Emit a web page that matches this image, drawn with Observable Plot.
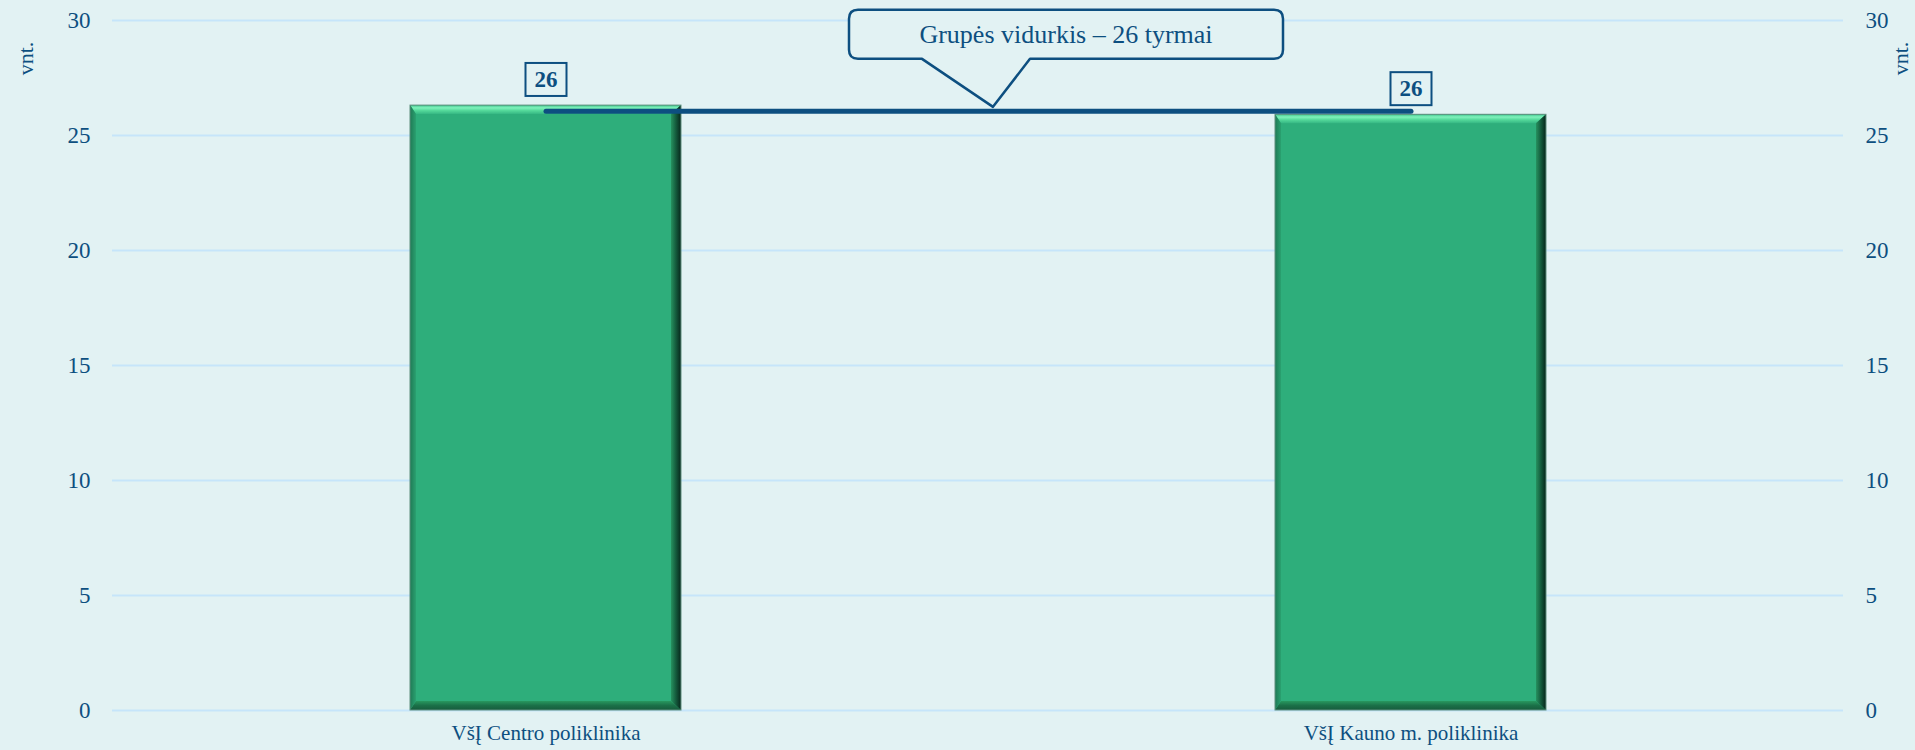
<!DOCTYPE html>
<html>
<head>
<meta charset="utf-8">
<script src="https://cdn.jsdelivr.net/npm/d3@7"></script>
<script src="https://cdn.jsdelivr.net/npm/@observablehq/plot@0.6"></script>
<style>
  html, body { margin: 0; padding: 0; background: #e2f2f3; }
  body { width: 1915px; height: 750px; overflow: hidden; }
</style>
</head>
<body>
<div id="chart"></div>
<script>
const categories = ["VšĮ Centro poliklinika", "VšĮ Kauno m. poliklinika"];
const values = [26.3, 25.9];
const valueLabels = ["26", "26"];
const groupAverage = 26.05;
const calloutText = "Grupės vidurkis – 26 tyrmai";
const yTicks = [0, 5, 10, 15, 20, 25, 30];
const unitLabel = "vnt.";

const BG = "#e2f2f3";
const BLUE = "#0d4f80";
const GREEN = "#2eae7b";
const FONT = "'Liberation Serif', 'Times New Roman', serif";

const data = categories.map((c, i) => ({cat: c, value: values[i], label: valueLabels[i]}));
const avgLine = categories.map(c => ({cat: c, value: groupAverage}));

const chart = Plot.plot({
  width: 1915,
  height: 750,
  marginLeft: 112,
  marginRight: 72,
  marginTop: 20,
  marginBottom: 40,
  style: {background: BG, fontFamily: FONT, color: BLUE, overflow: "visible"},
  x: {type: "band", domain: categories, paddingInner: 0.687, paddingOuter: 0.3435, label: null},
  y: {domain: [0, 30], label: null},
  marks: [
    Plot.gridY(yTicks, {stroke: "#c6e5fa", strokeOpacity: 1, strokeWidth: 2}),
    Plot.barY(data, {x: "cat", y: "value", fill: GREEN}),
    Plot.line(avgLine, {x: "cat", y: "value", stroke: BLUE, strokeWidth: 5, strokeLinecap: "round"}),
    Plot.text(data, {x: "cat", y: "value", text: "label", dy: -26, fontSize: 23, fontWeight: "bold", fill: BLUE}),
    Plot.axisY(yTicks, {anchor: "left", tickSize: 0, tickPadding: 22, fontSize: 23, fill: BLUE, label: null}),
    Plot.axisY(yTicks, {anchor: "right", tickSize: 0, tickPadding: 22, fontSize: 23, fill: BLUE, label: null}),
    Plot.axisX({tickSize: 0, tickPadding: 15, fontSize: 21, fill: BLUE, label: null}),
    Plot.text([unitLabel], {frameAnchor: "top-left", textAnchor: "middle", lineAnchor: "middle", rotate: -90, dx: -87, dy: 38, fontSize: 22, fill: BLUE}),
    Plot.text([unitLabel], {frameAnchor: "top-right", textAnchor: "middle", lineAnchor: "middle", rotate: -90, dx: 57, dy: 38, fontSize: 22, fill: BLUE})
  ]
});

document.getElementById("chart").appendChild(chart);

const svg = d3.select(chart);
const defs = svg.insert("defs", ":first-child");
function grad(id, x2, y2, stops) {
  const g = defs.append("linearGradient").attr("id", id)
    .attr("x1", 0).attr("y1", 0).attr("x2", x2).attr("y2", y2);
  stops.forEach(([o, c]) => g.append("stop").attr("offset", o).attr("stop-color", c));
}
grad("bvTop", 0, 1, [[0, "#3cc38c"], [0.3, "#80f2bb"], [0.6, "#55d99b"], [1, "#35b783"]]);
grad("bvRight", 1, 0, [[0, "#26915f"], [0.5, "#145a3c"], [1, "#06251a"]]);
grad("bvBottom", 0, 1, [[0, "#28985f"], [0.5, "#1b7048"], [1, "#175c3d"]]);
grad("bvLeft", 1, 0, [[0, "#1f7a55"], [1, "#2aa170"]]);

// bevel decoration derived from the bars Plot drew
svg.selectAll('g[aria-label="bar"] rect').each(function () {
  const r = d3.select(this);
  const x = +r.attr("x"), y = +r.attr("y"), w = +r.attr("width"), h = +r.attr("height");
  const t = 9, rt = 10, b = 9, l = 6;
  const g = d3.select(this.parentNode).append("g");
  const poly = (pts, fill) => g.append("polygon").attr("points", pts.map(p => p.join(",")).join(" ")).attr("fill", fill);
  poly([[x, y], [x + w, y], [x + w - rt, y + t], [x + l, y + t]], "url(#bvTop)");
  poly([[x, y + h], [x + w, y + h], [x + w - rt, y + h - b], [x + l, y + h - b]], "url(#bvBottom)");
  poly([[x, y], [x, y + h], [x + l, y + h - b], [x + l, y + t]], "url(#bvLeft)");
  poly([[x + w, y], [x + w, y + h], [x + w - rt, y + h - b], [x + w - rt, y + t]], "url(#bvRight)");
  g.append("rect").attr("x", x).attr("y", y).attr("width", w).attr("height", h)
    .attr("fill", "none").attr("stroke", "#5f8f7e").attr("stroke-width", 1);
});

// boxes around value labels (first text mark)
const labelGroup = svg.selectAll('g[aria-label="text"]').filter((d, i) => i === 0);
labelGroup.selectAll("text").each(function () {
  const bb = this.getBBox();
  const tr = this.getAttribute("transform");
  const rect = document.createElementNS("http://www.w3.org/2000/svg", "rect");
  this.parentNode.insertBefore(rect, this);
  d3.select(rect)
    .attr("x", bb.x - 9).attr("y", bb.y - 4).attr("width", bb.width + 18).attr("height", bb.height + 8)
    .attr("transform", tr).attr("fill", BG).attr("stroke", BLUE).attr("stroke-width", 2);
});

// callout
const xs = chart.scale("x"), ys = chart.scale("y");
const c1 = xs.apply(categories[0]) + xs.bandwidth / 2;
const c2 = xs.apply(categories[1]) + xs.bandwidth / 2;
const mid = (c1 + c2) / 2;
const tipX = mid + 15, tipY = ys.apply(groupAverage) - 4;
const B = tipY - 48, T = B - 49;
const L = mid - 129, R = mid + 305, rr = 9;
const pL = mid - 56, pR = mid + 52;
const path = `M${L + rr},${T} H${R - rr} Q${R},${T} ${R},${T + rr} V${B - rr} Q${R},${B} ${R - rr},${B} H${pR} L${tipX},${tipY} L${pL},${B} H${L + rr} Q${L},${B} ${L},${B - rr} V${T + rr} Q${L},${T} ${L + rr},${T} Z`;
const cg = svg.append("g");
cg.append("path").attr("d", path).attr("fill", BG).attr("stroke", BLUE).attr("stroke-width", 2.5).attr("stroke-linejoin", "round");
cg.append("text").attr("x", (L + R) / 2).attr("y", (T + B) / 2).attr("dy", "0.34em")
  .attr("text-anchor", "middle").attr("font-size", 26).attr("fill", BLUE).attr("font-family", FONT)
  .text(calloutText);
</script>
</body>
</html>
